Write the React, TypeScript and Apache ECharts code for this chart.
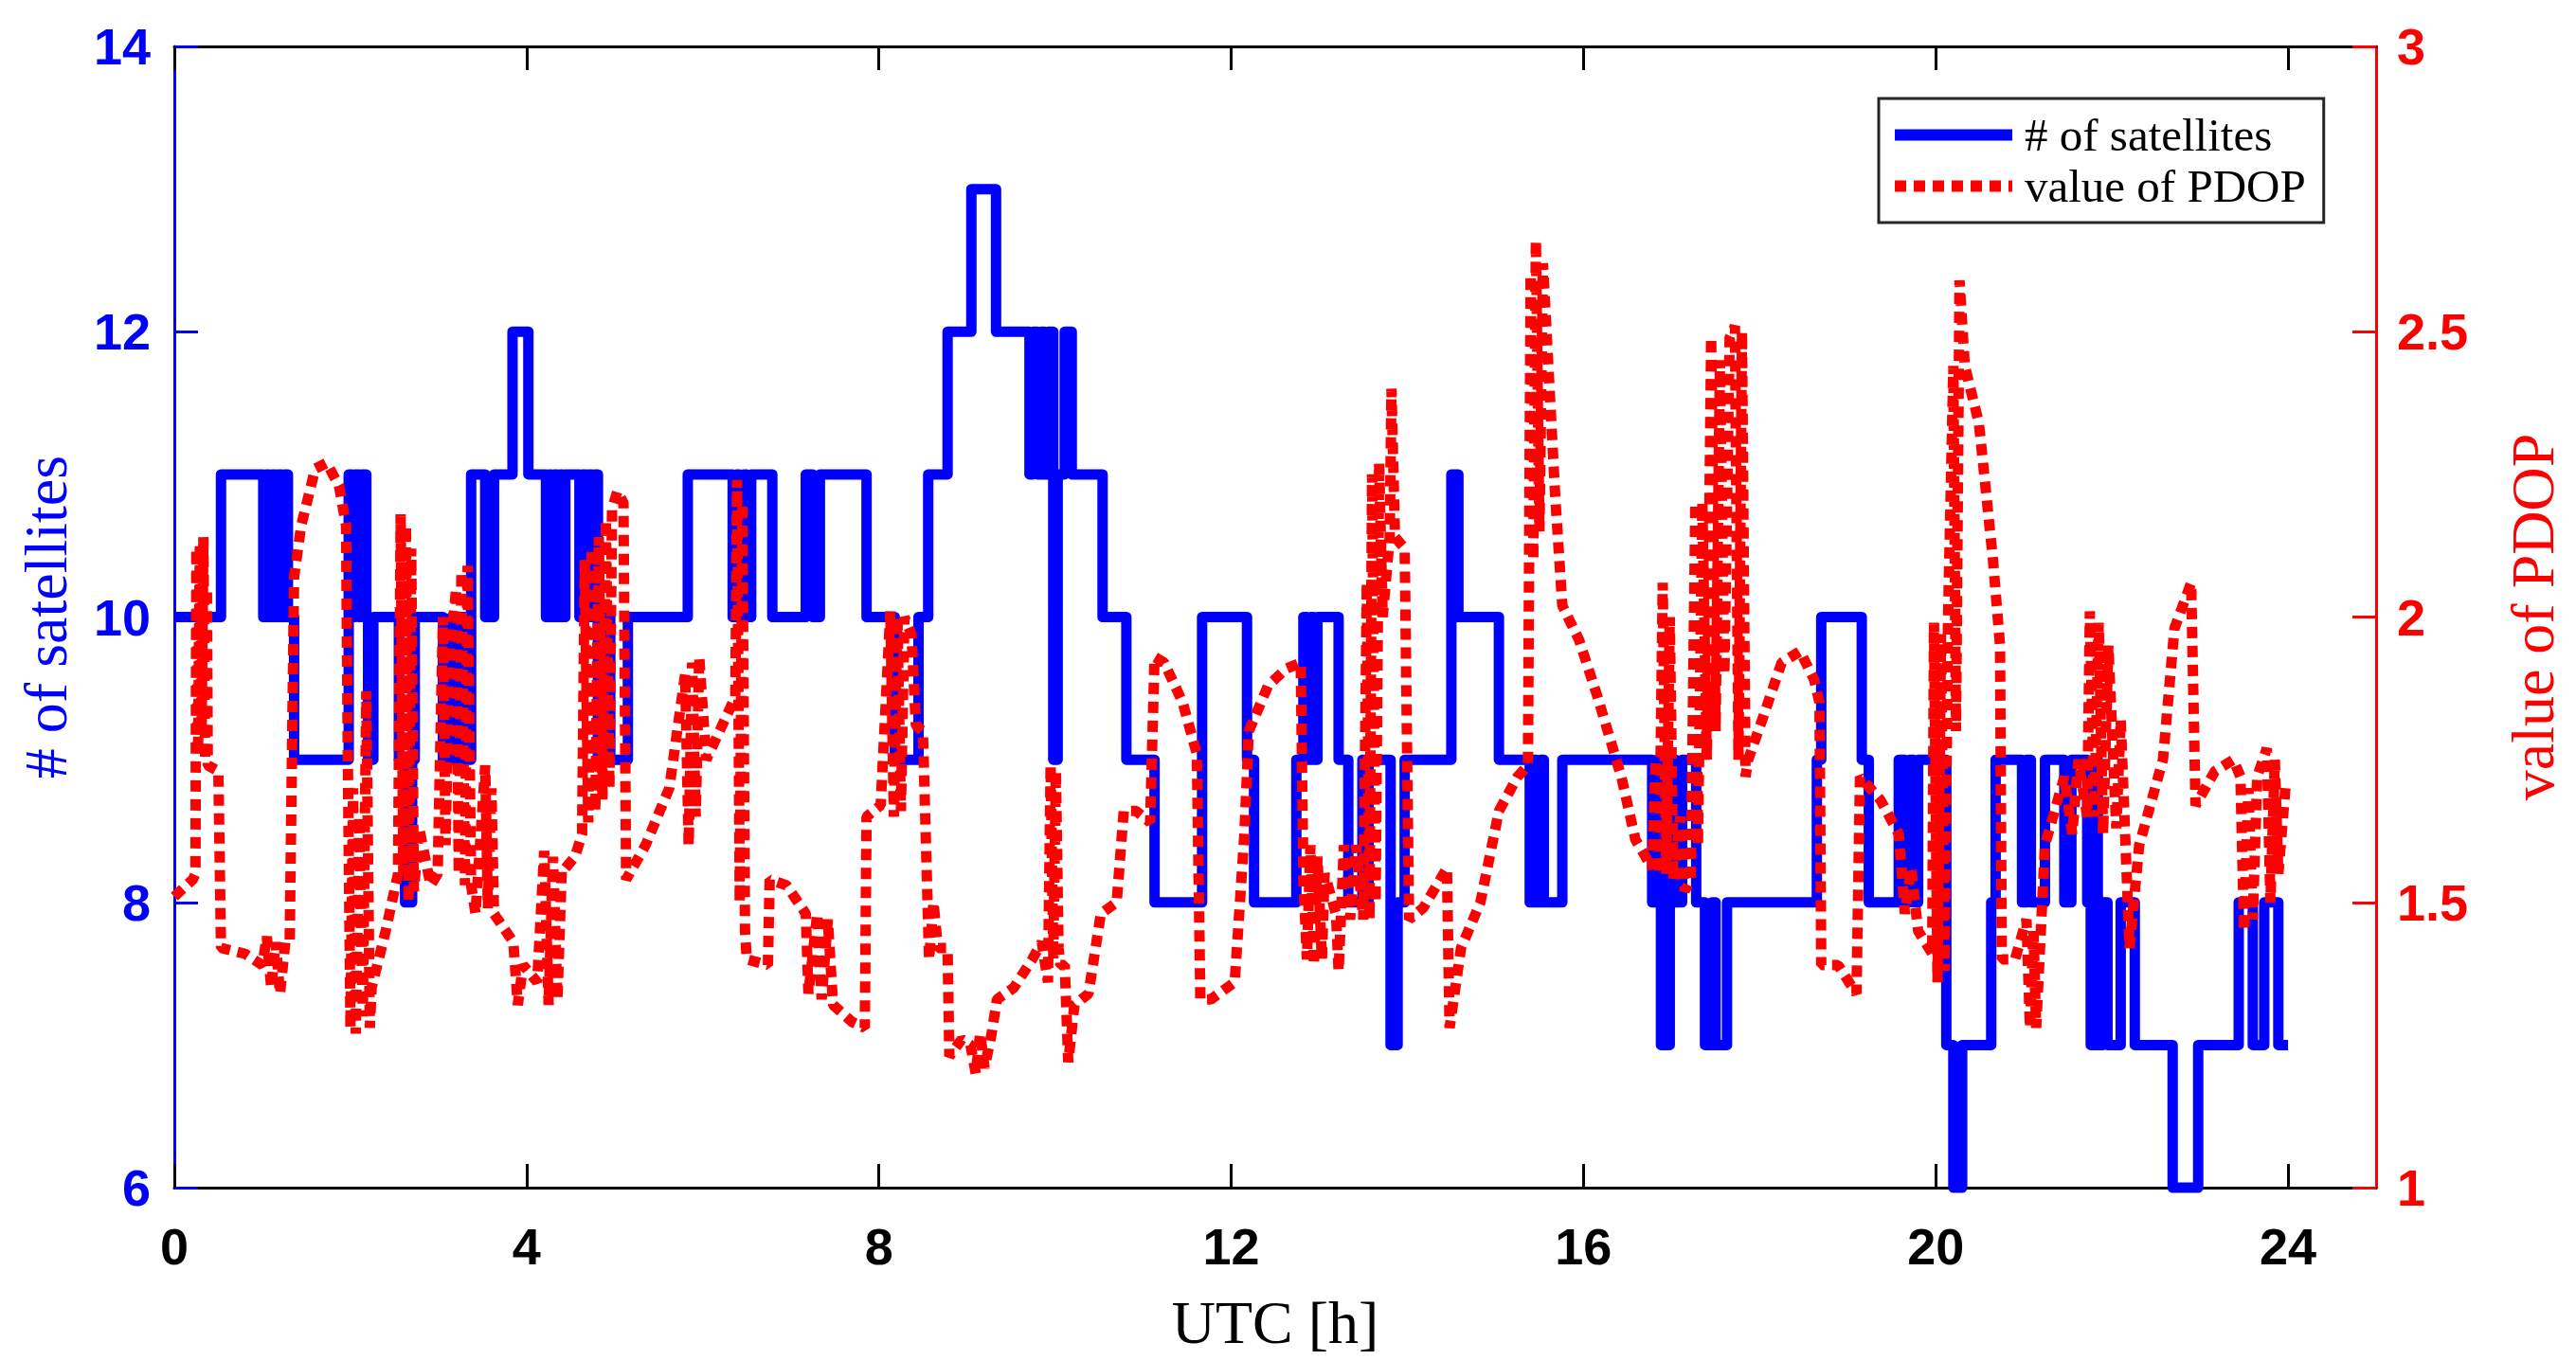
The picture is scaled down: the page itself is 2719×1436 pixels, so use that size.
import React, { useEffect, useRef } from "react";
import * as echarts from "echarts";

// ---- Data ----
const xTickValues = [0, 4, 8, 12, 16, 20, 24];

// # of satellites: change points (hour) and count held from that point on
const satTime = [
  0, 0.53, 1.01, 1.04, 1.08, 1.11, 1.15, 1.18, 1.22, 1.25, 1.29, 1.36, 1.98, 2.02, 2.05, 2.1, 2.13, 2.18, 2.2, 2.26,
  2.55, 2.62, 2.7, 2.73, 3.05, 3.15, 3.2, 3.26, 3.3, 3.37, 3.53, 3.63, 3.84, 4.02, 4.22, 4.25, 4.28, 4.31,
  4.35, 4.38, 4.41, 4.44, 4.6, 4.63, 4.67, 4.7, 4.74, 4.77, 4.81, 4.85, 4.88, 4.92, 4.95, 5.15, 5.83, 6.34, 6.38, 6.42,
  6.46, 6.5, 6.55, 6.79, 7.17, 7.25, 7.33, 7.86, 8.18, 8.45, 8.56, 8.78, 9.05, 9.33, 9.71, 9.75, 9.8, 9.84,
  9.88, 9.92, 9.98, 10.03, 10.11, 10.19, 10.54, 10.81, 11.13, 11.67, 12.18, 12.26, 12.74, 12.82, 12.86, 12.9, 12.94, 12.98, 13.22, 13.33,
  13.49, 13.52, 13.56, 13.81, 13.89, 13.97, 14.5, 14.58, 15.04, 15.39, 15.43, 15.47, 15.51, 15.55, 15.76, 16.78, 16.83, 16.88, 16.98, 17.05,
  17.12, 17.28, 17.38, 17.46, 17.5, 17.63, 18.65, 18.7, 19.16, 19.24, 19.58, 19.65, 19.7, 19.75, 19.8, 20.12, 20.2, 20.3, 20.63, 20.68,
  20.98, 21.03, 21.08, 21.24, 21.46, 21.54, 21.72, 21.76, 21.8, 21.84, 21.9, 21.95, 22.1, 22.26, 22.69, 22.98, 23.44, 23.6, 23.73, 23.89,
  24.0,
];
const satCount = [
  10, 11, 10, 11, 10, 11, 10, 11, 10, 11, 10, 9, 11, 10, 11, 10, 11, 10, 9, 10,
  9, 8, 9, 10, 9, 10, 9, 10, 9, 11, 10, 11, 12, 11, 10, 11, 10, 11,
  10, 11, 10, 11, 10, 11, 10, 11, 10, 11, 9, 10, 9, 10, 9, 10, 11, 10, 11, 10,
  11, 10, 11, 10, 11, 10, 11, 10, 9, 10, 11, 12, 13, 12, 11, 12, 11, 12,
  11, 12, 9, 11, 12, 11, 10, 9, 8, 10, 9, 8, 9, 10, 9, 10, 9, 10, 9, 8,
  9, 8, 9, 7, 8, 9, 11, 10, 9, 8, 9, 8, 9, 8, 9, 8, 9, 7, 9, 8,
  9, 8, 7, 8, 7, 8, 9, 10, 9, 8, 9, 8, 9, 8, 9, 7, 6, 7, 8, 9,
  8, 9, 8, 9, 8, 9, 8, 7, 9, 7, 8, 7, 8, 7, 6, 7, 8, 7, 8, 7,
  7,
];

// value of PDOP
const pdopTime = [
  0, 0.21, 0.24, 0.25, 0.27, 0.29, 0.31, 0.33, 0.35, 0.37, 0.38, 0.5, 0.53, 0.8, 1.0, 1.05, 1.1, 1.15, 1.2, 1.26,
  1.31, 1.36, 1.44, 1.6, 1.73, 1.87, 1.95, 1.97, 2.0, 2.03, 2.06, 2.1, 2.14, 2.18, 2.22, 2.24, 2.4, 2.54, 2.57, 2.6,
  2.63, 2.66, 2.69, 2.72, 2.78, 2.91, 2.99, 3.05, 3.08, 3.12, 3.2, 3.23, 3.26, 3.3, 3.33, 3.37, 3.42, 3.53, 3.56, 3.6,
  3.63, 3.85, 3.9, 3.96, 4.12, 4.2, 4.25, 4.3, 4.35, 4.4, 4.44, 4.55, 4.63, 4.66, 4.7, 4.74, 4.78, 4.82, 4.86, 4.9,
  4.94, 4.97, 5.03, 5.1, 5.13, 5.35, 5.62, 5.8, 5.84, 5.88, 5.92, 5.96, 6.04, 6.37, 6.39, 6.42, 6.45, 6.48, 6.5, 6.74,
  6.76, 6.95, 7.17, 7.2, 7.3, 7.35, 7.42, 7.48, 7.7, 7.84, 7.86, 8.02, 8.13, 8.17, 8.21, 8.25, 8.29, 8.37, 8.42, 8.5,
  8.57, 8.62, 8.67, 8.78, 8.8, 8.94, 9.04, 9.1, 9.15, 9.2, 9.28, 9.34, 9.53, 9.74, 9.85, 9.92, 9.95, 9.98, 10.01, 10.04,
  10.06, 10.11, 10.15, 10.22, 10.38, 10.52, 10.7, 10.78, 10.92, 11.08, 11.13, 11.24, 11.45, 11.61, 11.65, 11.77, 12.04, 12.15, 12.2, 12.42,
  12.63, 12.79, 12.82, 12.86, 12.9, 12.94, 12.98, 13.03, 13.06, 13.19, 13.22, 13.28, 13.35, 13.42, 13.5, 13.54, 13.57, 13.6, 13.64, 13.68,
  13.72, 13.8, 13.82, 13.86, 13.97, 14.02, 14.18, 14.45, 14.48, 14.61, 14.83, 15.04, 15.25, 15.37, 15.4, 15.43, 15.46, 15.5, 15.54, 15.68,
  15.76, 15.95, 16.16, 16.43, 16.59, 16.78, 16.82, 16.86, 16.9, 16.94, 16.98, 17.02, 17.1, 17.15, 17.22, 17.27, 17.3, 17.35, 17.4, 17.45,
  17.5, 17.55, 17.6, 17.66, 17.72, 17.76, 17.8, 17.84, 17.87, 18.03, 18.25, 18.46, 18.62, 18.68, 18.7, 18.89, 19.1, 19.14, 19.37, 19.58,
  19.65, 19.72, 19.8, 19.96, 19.98, 20.02, 20.06, 20.1, 20.14, 20.2, 20.23, 20.27, 20.33, 20.49, 20.65, 20.73, 20.75, 20.9, 21.03, 21.07,
  21.11, 21.14, 21.24, 21.46, 21.55, 21.62, 21.72, 21.75, 21.8, 21.85, 21.9, 21.96, 22.05, 22.1, 22.2, 22.31, 22.58, 22.71, 22.9, 22.95,
  23.17, 23.38, 23.46, 23.5, 23.55, 23.6, 23.65, 23.76, 23.8, 23.85, 23.89, 23.97,
];
const pdopValue = [
  1.51, 1.54, 1.55, 2.12, 1.76, 2.13, 1.8, 2.14, 1.75, 2.05, 1.74, 1.73, 1.42, 1.41, 1.39, 1.44, 1.35, 1.43, 1.34, 1.43,
  1.43, 2.07, 2.16, 2.26, 2.27, 2.23, 2.16, 1.75, 1.28, 1.7, 1.27, 1.65, 1.3, 1.87, 1.28, 1.35, 1.45, 1.55, 2.18, 1.55,
  2.16, 1.5, 2.12, 1.52, 1.63, 1.53, 1.55, 2.0, 1.6, 1.92, 2.05, 1.55, 2.08, 1.53, 2.09, 1.53, 1.48, 1.74, 1.49, 1.7,
  1.48, 1.43, 1.32, 1.39, 1.36, 1.59, 1.32, 1.58, 1.33, 1.56, 1.56, 1.58, 1.62, 2.1, 1.64, 2.12, 1.66, 2.14, 1.68, 2.17,
  1.7, 2.19, 2.22, 2.2, 1.54, 1.6, 1.7, 1.9, 1.6, 1.92, 1.65, 1.93, 1.75, 1.86, 2.24, 1.5, 2.2, 1.45, 1.4, 1.39,
  1.54, 1.53, 1.48, 1.34, 1.48, 1.33, 1.47, 1.32, 1.29, 1.28, 1.65, 1.67, 2.01, 1.65, 2.0, 1.66, 2.0, 1.97, 1.81, 1.8,
  1.4, 1.5, 1.42, 1.42, 1.23, 1.26, 1.25, 1.2, 1.27, 1.21, 1.27, 1.33, 1.35, 1.4, 1.43, 1.36, 1.74, 1.4, 1.73, 1.42,
  1.39, 1.39, 1.22, 1.32, 1.34, 1.48, 1.5, 1.66, 1.66, 1.64, 1.93, 1.92, 1.85, 1.76, 1.33, 1.33, 1.36, 1.62, 1.8, 1.88,
  1.91, 1.92, 1.54, 1.4, 1.6, 1.39, 1.58, 1.4, 1.55, 1.48, 1.38, 1.6, 1.47, 1.6, 1.47, 2.06, 1.47, 2.25, 1.5, 2.27,
  2.0, 2.14, 2.4, 2.14, 2.12, 1.47, 1.49, 1.56, 1.28, 1.42, 1.5, 1.66, 1.72, 1.74, 2.6, 2.1, 2.66, 2.15, 2.62, 2.21,
  2.02, 1.96, 1.86, 1.72, 1.61, 1.56, 1.75, 1.55, 2.06, 1.55, 2.0, 1.54, 1.65, 1.52, 1.54, 2.2, 1.6, 2.2, 1.75, 2.49,
  1.8, 2.45, 1.9, 2.49, 2.51, 1.75, 2.5, 1.72, 1.75, 1.82, 1.92, 1.94, 1.89, 1.85, 1.39, 1.39, 1.34, 1.72, 1.68, 1.62,
  1.48, 1.56, 1.45, 1.41, 1.99, 1.36, 1.97, 1.38, 2.0, 2.44, 1.8, 2.59, 2.44, 2.34, 2.1, 1.95, 1.4, 1.4, 1.47, 1.28,
  1.45, 1.28, 1.6, 1.72, 1.62, 1.75, 1.65, 2.01, 1.65, 1.99, 1.62, 1.95, 1.63, 1.82, 1.42, 1.6, 1.75, 1.98, 2.06, 1.67,
  1.73, 1.75, 1.72, 1.45, 1.7, 1.47, 1.72, 1.77, 1.5, 1.75, 1.55, 1.7,
];

const SERIF = "'Liberation Serif', 'Times New Roman', Times, serif";
const SANS = "'Liberation Sans', Arial, Helvetica, sans-serif";
const BLUE = "#0000ff";
const RED = "#ff0000";

export default function App() {
  const ref = useRef<HTMLDivElement>(null);

  useEffect(() => {
    document.body.style.margin = "0";
    const chart = echarts.init(ref.current as HTMLDivElement, null, { renderer: "svg" });

    const satData = satTime.map((t, i) => [t, satCount[i]]);
    const pdopData = pdopTime.map((t, i) => [t, pdopValue[i]]);

    const xCommon = {
      type: "value" as const,
      min: 0,
      max: 25,
      interval: 4,
      splitLine: { show: false },
      axisLine: { show: true, onZero: false, lineStyle: { color: "#000", width: 3 } },
      axisTick: {
        show: true,
        inside: true,
        length: 25,
        customValues: xTickValues,
        lineStyle: { color: "#000", width: 3 },
      },
    };

    const option = {
      animation: false,
      backgroundColor: "#ffffff",
      grid: { left: 184, right: 211, top: 49, bottom: 182, containLabel: false },
      legend: {
        orient: "vertical",
        left: 1983,
        top: 104,
        padding: [14, 19, 14, 17],
        itemGap: 5,
        itemWidth: 124,
        itemHeight: 12,
        align: "left",
        borderColor: "#262626",
        borderWidth: 3,
        backgroundColor: "#ffffff",
        selectedMode: false,
        textStyle: { fontSize: 49, fontFamily: SERIF, color: "#000", padding: [0, 0, 0, 8] },
        data: [
          { name: "# of satellites", icon: "rect" },
          {
            name: "value of PDOP",
            icon:
              "path://M0 0h12v12H0z M20 0h12v12H20z M40 0h12v12H40z M60 0h12v12H60z M80 0h12v12H80z M100 0h12v12H100z M120 0h4v12H120z",
          },
        ],
      },
      xAxis: [
        {
          ...xCommon,
          position: "bottom",
          axisLabel: {
            show: true,
            margin: 35,
            fontSize: 54,
            fontWeight: "bold",
            color: "#000",
            fontFamily: SANS,
            customValues: xTickValues,
          },
          name: "UTC [h]",
          nameLocation: "middle",
          nameGap: 110,
          nameTextStyle: { fontSize: 64, fontFamily: SERIF, color: "#000" },
        },
        {
          ...xCommon,
          position: "top",
          axisLabel: { show: false },
        },
      ],
      yAxis: [
        {
          type: "value",
          min: 6,
          max: 14,
          interval: 2,
          position: "left",
          splitLine: { show: false },
          axisLine: { show: true, onZero: false, lineStyle: { color: BLUE, width: 3 } },
          axisTick: { show: true, inside: true, length: 25, lineStyle: { color: BLUE, width: 3 } },
          axisLabel: { margin: 25, fontSize: 54, fontWeight: "bold", color: BLUE, fontFamily: SANS },
          name: "# of satellites",
          nameLocation: "middle",
          nameGap: 104,
          nameTextStyle: { fontSize: 64, fontFamily: SERIF, color: BLUE },
        },
        {
          type: "value",
          min: 1,
          max: 3,
          interval: 0.5,
          position: "right",
          splitLine: { show: false },
          axisLine: { show: true, onZero: false, lineStyle: { color: RED, width: 3 } },
          axisTick: { show: true, inside: true, length: 25, lineStyle: { color: RED, width: 3 } },
          axisLabel: { margin: 22, fontSize: 54, fontWeight: "bold", color: RED, fontFamily: SANS },
          name: "value of PDOP",
          nameLocation: "middle",
          nameGap: 133,
          nameTextStyle: { fontSize: 64, fontFamily: SERIF, color: RED },
        },
      ],
      series: [
        {
          type: "line",
          name: "# of satellites",
          xAxisIndex: 0,
          yAxisIndex: 0,
          data: satData,
          step: "end",
          symbol: "none",
          showSymbol: false,
          clip: false,
          z: 2,
          itemStyle: { color: BLUE },
          lineStyle: { color: BLUE, width: 11, join: "round" },
        },
        {
          type: "line",
          name: "value of PDOP",
          xAxisIndex: 0,
          yAxisIndex: 1,
          data: pdopData,
          symbol: "none",
          showSymbol: false,
          clip: false,
          z: 3,
          itemStyle: { color: RED },
          lineStyle: { color: RED, width: 11, type: [12, 8] },
        },
      ],
    };

    chart.setOption(option as any);
    return () => chart.dispose();
  }, []);

  return <div ref={ref} style={{ width: 2719, height: 1436 }} />;
}
